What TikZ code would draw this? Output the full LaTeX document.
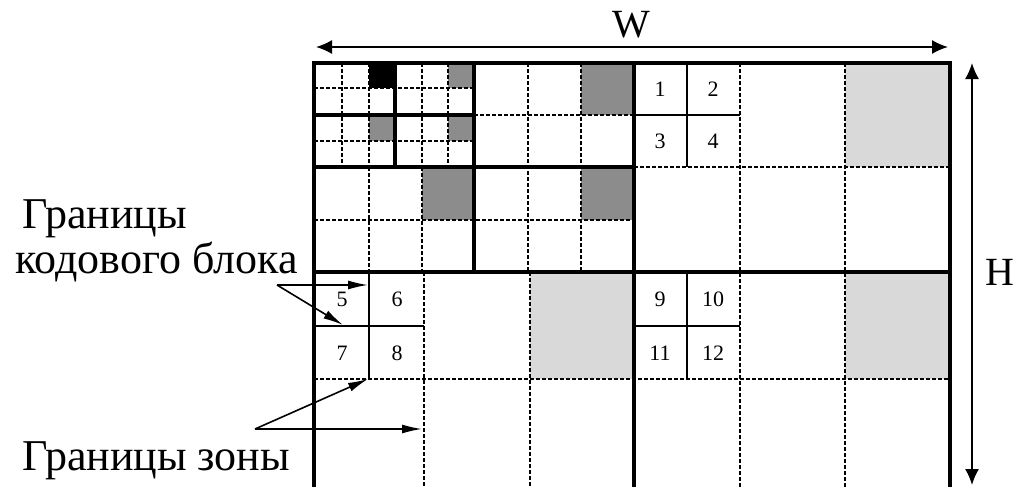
\documentclass[tikz,border=0pt]{standalone}
\usepackage{fontspec}
\setmainfont{Liberation Serif}
\usetikzlibrary{positioning,arrows.meta}

\begin{document}
\begin{tikzpicture}[
    x=0.5pt, y=-0.5pt,
    tile/.style={line width=1.7pt},
    zone/.style={line width=1pt,dash pattern=on 2pt off 1pt},
    cblk/.style={line width=0.7pt},
    num/.style={font=\fontsize{11}{12}\selectfont,inner sep=0pt},
    lbl/.style={font=\fontsize{22}{24}\selectfont,inner sep=0pt,anchor=base west},
    dimlbl/.style={font=\fontsize{20}{24}\selectfont,inner sep=0pt},
    dimarr/.style={{Latex[length=8pt,width=7pt]}-{Latex[length=8pt,width=7pt]},line width=0.8pt},
    arr/.style={-{Latex[length=10pt,width=4.5pt]},line width=0.8pt}
  ]
    \useasboundingbox (0,0) rectangle (1017,487);
    % shaded code blocks
    \fill[black] (369,63) rectangle (395,88);
    \fill[gray!90] (448,63) rectangle (474,88);
    \fill[gray!90] (369,115) rectangle (395,141);
    \fill[gray!90] (448,115) rectangle (474,141);
    \fill[gray!90] (581,63) rectangle (634,115);
    \fill[gray!90] (422,167) rectangle (474,220);
    \fill[gray!90] (581,167) rectangle (634,220);
    \fill[gray!30] (845,63) rectangle (950,167);
    \fill[gray!30] (530,272) rectangle (634,379);
    \fill[gray!30] (845,272) rectangle (950,379);
    % zone borders
    \foreach \x in {342,369,422,448} \draw[zone] (\x,63) -- (\x,167);
    \foreach \y in {88,141} \draw[zone] (314,\y) -- (474,\y);
    \foreach \x in {528,581} \draw[zone] (\x,63) -- (\x,272);
    \foreach \x in {369,422} \draw[zone] (\x,167) -- (\x,272);
    \draw[zone] (474,115) -- (634,115);
    \draw[zone] (314,220) -- (634,220);
    \foreach \x in {740,845} \draw[zone] (\x,63) -- (\x,490);
    \foreach \x in {424,530} \draw[zone] (\x,272) -- (\x,490);
    \draw[zone] (634,167) -- (950,167);
    \draw[zone] (314,379) -- (950,379);
    % code block borders
    \draw[cblk] (687,63) -- (687,167) (634,115) -- (740,115);
    \draw[cblk] (369,272) -- (369,379) (314,326) -- (424,326);
    \draw[cblk] (687,272) -- (687,379) (634,326) -- (740,326);
    % subband borders
    \draw[tile] (314,490) -- (314,63) -- (950,63) -- (950,490);
    \draw[tile] (634,63) -- (634,490) (314,272) -- (950,272);
    \draw[tile] (474,63) -- (474,272) (314,167) -- (634,167);
    \draw[tile] (395,63) -- (395,167) (314,115) -- (474,115);
    % code block numbers
    \foreach \n/\x/\y in {1/660/89,2/713/89,3/660/141,4/713/141,
                          5/342/299,6/397/299,7/342/353,8/397/353,
                          9/660/299,10/713/299,11/660/353,12/713/353}
      \node[num] (cb\n) at (\x,\y) {\n};
    % dimensions
    \coordinate (wl) at (316,47);
    \coordinate (wr) at (948,47);
    \coordinate (ht) at (972,63);
    \coordinate (hb) at (972,485);
    \draw[dimarr] (wl) -- (wr);
    \draw[dimarr] (ht) -- (hb);
    \node[dimlbl] (wlabel) at (631,25) {W};
    \node[dimlbl] (hlabel) at (1000,272) {H};
    % labels
    \node[lbl] (cbtext1) at (22,228) {Границы};
    \node[lbl] (cbtext2) at (15,273) {кодового блока};
    \node[lbl] (zntext) at (22,470) {Границы зоны};
    \coordinate (cbfrom) at (277,285);
    \coordinate (cbv) at (368,285);
    \coordinate (cbh) at (343,325);
    \coordinate (znfrom) at (255,429);
    \coordinate (znv) at (422,429);
    \coordinate (znh) at (368,379);
    \draw[arr] (cbfrom) -- (cbv);
    \draw[arr] (cbfrom) -- (cbh);
    \draw[arr] (znfrom) -- (znv);
    \draw[arr] (znfrom) -- (znh);
  \end{tikzpicture}
\end{document}
